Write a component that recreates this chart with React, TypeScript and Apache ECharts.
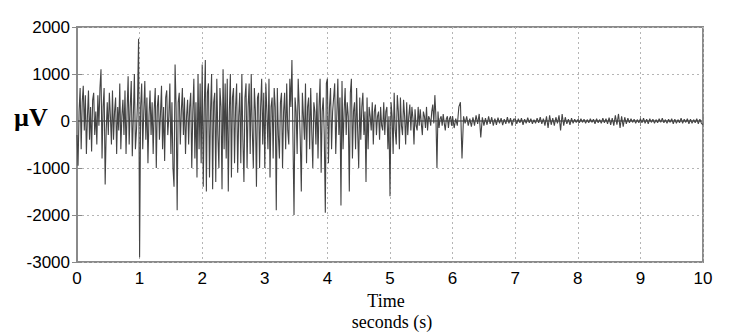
import React, { useEffect, useRef } from "react";
import * as echarts from "echarts";

// 0–6 s sampled at 60 Hz, 6–10 s at 40 Hz
const DT_A = 1 / 60;
const DT_B = 0.025;
const T_SPLIT = 6;
const xTicks = [0, 1, 2, 3, 4, 5, 6, 7, 8, 9, 10];
const yTicks = [-3000, -2000, -1000, 0, 1000, 2000];

const s0 = [-300, -950, 200, 700, -600, 400, 750, -200, 550, -700, 100, 650, -400, 300, -650, 450, 600, -300, 200, -500, 550, -100, 700, 1100, -800, 300, 700, -1350, -200, 400, -300, 600, 100, -500, 650, -400, 200, 500, -700, 300, -200, 800, -600, 100, 450, -300, 650, -700, 200, 950, -500, 300, 850, -750, 100, 1000, -600, -200, 400, 1750];
const s1 = [-2900, 300, 800, -600, 200, 850, -400, 500, -900, 100, 650, -300, 400, -700, 250, 700, -1000, 300, 550, -400, 150, 750, -600, 300, -850, 500, 650, -300, 100, 800, -700, 400, -1000, -1400, 1200, 300, -1900, 400, 600, -500, 200, 700, -300, 500, -700, 100, 450, -500, 300, 600, -1000, 200, 900, -800, 400, -1200, 1000, -600, 800, -900];
const s2 = [1200, -1400, 300, 1300, -1500, 600, 800, -1200, 200, 1000, -1450, 400, 600, -1300, 900, -300, -1000, 700, 300, -1450, 1100, -600, 800, -800, 900, -1500, 200, 1000, -1200, 500, 700, -900, 300, 800, -1100, 100, 600, -900, 1000, -400, -1300, 500, 800, -1000, 300, 800, -700, 1000, -200, -1000, 700, 200, -1400, 500, 600, -1000, 300, 900, -500, 600];
const s3 = [-1000, 800, 200, -600, 900, -1200, 300, 500, -800, 700, 300, -1900, 700, -300, -800, 400, 600, -1000, 200, 600, -600, 800, -200, -500, 900, 300, 1300, -400, -2000, 500, 200, -700, 900, 300, -400, -1500, 600, 100, -400, 800, -900, 300, 500, -600, 700, -200, -1000, 400, 200, -500, 600, -800, 300, 900, -1100, 200, 500, -300, -1950, 800];
const s4 = [900, -900, 300, 700, -600, 200, 500, 800, -700, 100, 900, -300, 500, -1800, 850, -600, 200, 700, -300, 400, 100, -1500, 600, 900, -800, 200, 400, -600, 700, -200, -1000, 500, -400, 300, 600, -300, 200, -1300, 500, -600, 300, 100, -200, 400, -500, 200, 350, -300, 100, 200, -400, 300, -100, -200, 400, -300, 200, 300, -600, 100];
const s5 = [-1600, 400, 100, -700, 600, -200, -500, 550, 200, -600, 500, -100, -300, 450, 100, -500, 400, -300, 100, 350, -200, 300, 50, -500, 250, -100, -200, 300, -100, 250, -50, -300, 200, 100, -150, 300, -200, 100, 50, -100, 200, 350, -50, 550, 100, -1000, 200, -150, 50, 100, -100, 150, -50, -200, 50, 100, -150, 50, 100, -100];
const s6 = [100, -150, 50, -100, 300, 400, -800, 100, -50, 100, -100, 50, -120, 80, -100, 120, -60, 150, -350, 80, -100, 60, -80, 100, -60, 80, -100, 50, -80, 70, -50, 60, -90, 40, -60, 80, -50, 60, -100, 40];
const s7 = [40, -60, 50, -40, 60, -80, 40, -50, 70, -40, 50, -60, 30, -50, 60, -40, 80, -60, 50, -100, 100, -150, 120, -80, 60, -100, 80, -50, 120, -200, 150, -100, 80, -60, 40, -80, 60, -50, 40, -30];
const s8 = [30, -40, 50, -30, 40, -50, 30, -40, 50, -30, 40, -60, 50, -40, 30, -50, 60, -40, 50, -60, 70, -80, 60, -100, 120, -80, 150, -150, 100, -120, 80, -60, 60, -40, 50, -30, 40, -50, 30, -40];
const s9 = [50, -40, 60, -50, 40, -60, 50, -30, 40, -50, 30, -40, 50, -30, 60, -40, 30, -50, 40, -30, 50, -60, 40, -50, 30, -40, 60, -50, 40, -30, 50, -60, 40, -50, 30, -40, 50, -60, 40, -50, -80];

const early = [...s0, ...s1, ...s2, ...s3, ...s4, ...s5];
const late = [...s6, ...s7, ...s8, ...s9];

export default function App() {
  const ref = useRef<HTMLDivElement>(null);
  useEffect(() => {
    if (!ref.current) return;
    const chart = echarts.init(ref.current, null, { renderer: "svg" });
    const data = [
      ...early.map((v, i) => [+(i * DT_A).toFixed(4), v]),
      ...late.map((v, i) => [+(T_SPLIT + i * DT_B).toFixed(4), v]),
    ];
    const frame = "#8a8a8a";
    const grid = { type: [2, 3] as any, color: "#b5b5b5", width: 1 };
    const labelFont = { color: "#000", fontFamily: "Liberation Sans, Arial", fontSize: 17 };
    chart.setOption({
      animation: false,
      backgroundColor: "#fff",
      grid: { left: 77, right: 36, top: 27, bottom: 72, show: true, borderColor: frame, borderWidth: 2 },
      xAxis: [
        {
          type: "value", min: xTicks[0], max: xTicks[xTicks.length - 1], interval: 1,
          axisLine: { show: true, lineStyle: { color: frame, width: 2 } },
          axisTick: { show: true, inside: true, length: 5, lineStyle: { color: frame } },
          axisLabel: { ...labelFont, margin: 8, formatter: (v: number) => String(v) },
          splitLine: { show: true, lineStyle: grid },
        },
        {
          type: "value", position: "top", min: 0, max: 10, interval: 1,
          axisLine: { show: true, lineStyle: { color: frame, width: 2 } },
          axisTick: { show: true, inside: true, length: 5, lineStyle: { color: frame } },
          axisLabel: { show: false }, splitLine: { show: false },
        },
      ],
      yAxis: [
        {
          type: "value", min: yTicks[0], max: yTicks[yTicks.length - 1], interval: 1000,
          axisLine: { show: true, lineStyle: { color: frame, width: 2 } },
          axisTick: { show: true, inside: true, length: 5, lineStyle: { color: frame } },
          axisLabel: { ...labelFont, margin: 7, formatter: (v: number) => String(v) },
          splitLine: { show: true, lineStyle: grid },
        },
        {
          type: "value", position: "right", min: -3000, max: 2000, interval: 1000,
          axisLine: { show: true, lineStyle: { color: frame, width: 2 } },
          axisTick: { show: true, inside: true, length: 5, lineStyle: { color: frame } },
          axisLabel: { show: false }, splitLine: { show: false },
        },
      ],
      series: [
        {
          type: "line", data, showSymbol: false, symbol: "none",
          lineStyle: { color: "#444444", width: 1.1 },
          z: 3,
        },
      ],
      graphic: [
        { type: "text", left: 14, top: 104, style: { text: "µV", font: "bold 26px 'Liberation Serif', 'Times New Roman', serif", fill: "#000" } },
        { type: "text", x: 386, y: 310, style: { text: "Time", font: "18px 'Liberation Serif', 'Times New Roman', serif", fill: "#000", textAlign: "center", textVerticalAlign: "bottom" } },
        { type: "text", x: 392, y: 331, style: { text: "seconds (s)", font: "18px 'Liberation Serif', 'Times New Roman', serif", fill: "#000", textAlign: "center", textVerticalAlign: "bottom" } },
      ],
    });
    return () => chart.dispose();
  }, []);
  return <div ref={ref} style={{ position: "fixed", left: 0, top: 0, width: 739, height: 334 }} />;
}
